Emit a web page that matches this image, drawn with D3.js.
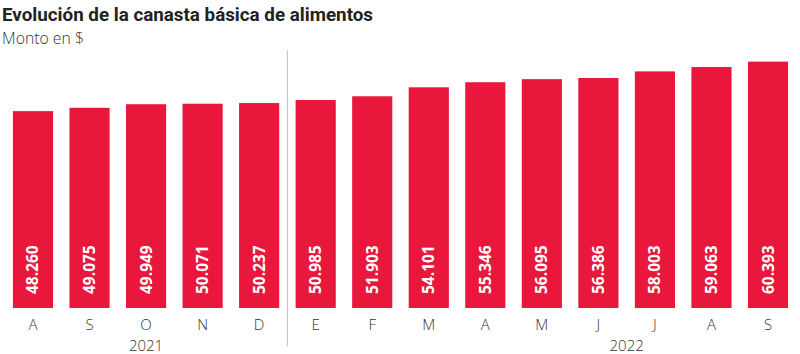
<!DOCTYPE html>
<html><head><meta charset="utf-8">
<script src="https://cdn.jsdelivr.net/npm/d3@7"></script>
<style>body{margin:0;background:#fff}svg{display:block}</style>
</head><body><svg id="c" width="800" height="354"></svg>
<script>
const months = ["A","S","O","N","D","E","F","M","A","M","J","J","A","S"];
const values = [48.260,49.075,49.949,50.071,50.237,50.985,51.903,54.101,55.346,56.095,56.386,58.003,59.063,60.393];
const valueLabels = ["48.260","49.075","49.949","50.071","50.237","50.985","51.903","54.101","55.346","56.095","56.386","58.003","59.063","60.393"];
const years = ["2021","2022"];

const svg = d3.select("#c");
const ids = d3.range(months.length);
const x = d3.scaleBand().domain(ids).range([5, 796]).paddingInner(0.29).paddingOuter(0.14);
const y = d3.scaleLinear().domain([0, 75.5]).range([308, 0]);

svg.append("text").attr("x",2).attr("y",21).attr("font-family","Roboto").attr("font-weight",700)
  .attr("font-size",18).attr("fill","#222").attr("textLength",371).attr("lengthAdjust","spacingAndGlyphs")
  .text("Evolución de la canasta básica de alimentos");
svg.append("text").attr("x",2).attr("y",44).attr("font-family","Open Sans").attr("font-weight",300)
  .attr("font-size",16).attr("fill","#333").attr("textLength",82).attr("lengthAdjust","spacingAndGlyphs")
  .text("Monto en $");

const divX = (x(4)+x.bandwidth() + x(5))/2;
svg.append("line").attr("x1",divX).attr("x2",divX).attr("y1",50).attr("y2",346)
  .attr("stroke","#c8c8c8").attr("stroke-width",1.2);

svg.selectAll("rect.bar").data(ids).join("rect").attr("class","bar")
  .attr("x",i=>x(i)).attr("width",x.bandwidth())
  .attr("y",i=>y(values[i])).attr("height",i=>y(0)-y(values[i]))
  .attr("fill","#e8173b");

svg.selectAll("text.val").data(ids).join("text").attr("class","val")
  .attr("transform",i=>`translate(${x(i)+x.bandwidth()/2+5.5},294) rotate(-90)`)
  .attr("font-family","Open Sans").attr("font-weight",700).attr("font-size",15.5)
  .attr("fill","#fff").text(i=>valueLabels[i]);

svg.selectAll("text.m").data(ids).join("text").attr("class","m")
  .attr("x",i=>x(i)+x.bandwidth()/2).attr("y",330).attr("text-anchor","middle")
  .attr("font-family","Open Sans").attr("font-weight",300).attr("font-size",15).attr("fill","#333")
  .text(i=>months[i]);

const yearX = [ (x(0)+x(4)+x.bandwidth())/2, (x(10)+x(11)+x.bandwidth())/2 ];
svg.selectAll("text.yr").data(years).join("text").attr("class","yr")
  .attr("x",(d,i)=>yearX[i]).attr("y",351).attr("text-anchor","middle")
  .attr("font-family","Open Sans").attr("font-weight",300).attr("font-size",15).attr("fill","#333")
  .text(d=>d);
</script></body></html>
